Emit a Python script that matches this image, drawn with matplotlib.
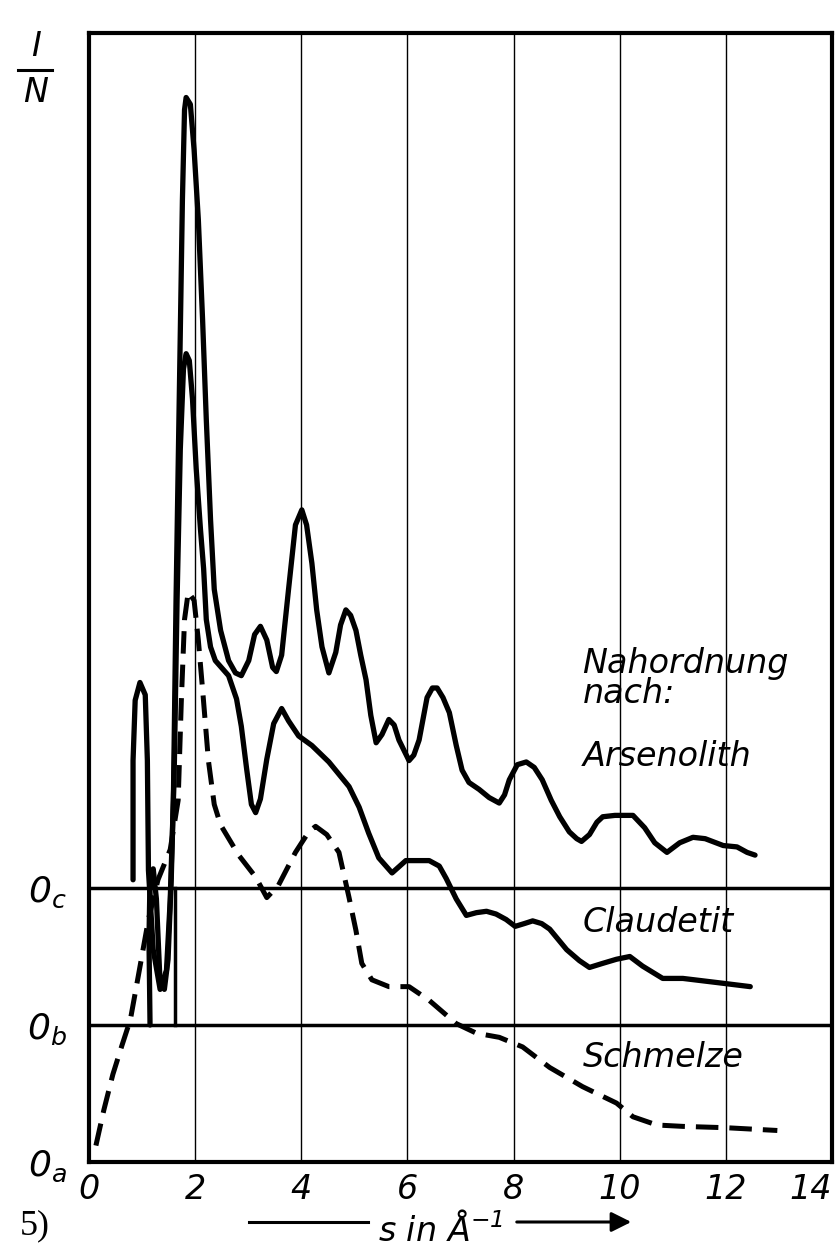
import numpy as np
import matplotlib.pyplot as plt
from matplotlib.lines import Line2D

plt.rcParams['mathtext.fontset'] = 'custom'
plt.rcParams['mathtext.it'] = 'DejaVu Sans:italic'
plt.rcParams['mathtext.rm'] = 'DejaVu Sans:italic'
plt.rcParams['mathtext.default'] = 'it'

# s in 1/Angstrom, I/N relative to each curve's own zero line
arsenolith_s = [0.83, 0.83, 0.87, 0.96, 1.06, 1.10, 1.12, 1.21, 1.34, 1.46, 1.53, 1.59, 1.64, 1.70,
                1.76, 1.80, 1.83, 1.91, 1.98, 2.06, 2.14, 2.21, 2.29, 2.36, 2.48, 2.63, 2.76, 2.87,
                3.01, 3.12, 3.23, 3.35, 3.46, 3.53, 3.63, 3.76, 3.89, 4.01, 4.10, 4.20, 4.29, 4.39,
                4.52, 4.65, 4.74, 4.84, 4.93, 5.03, 5.12, 5.22, 5.31, 5.41, 5.52, 5.65, 5.75, 5.84,
                6.03, 6.12, 6.22, 6.37, 6.47, 6.56, 6.67, 6.79, 6.92, 7.03, 7.16, 7.35, 7.54, 7.73,
                7.83, 7.92, 8.07, 8.24, 8.39, 8.54, 8.71, 8.87, 9.05, 9.19, 9.28, 9.43, 9.57, 9.68,
                9.91, 10.25, 10.47, 10.66, 10.89, 11.13, 11.38, 11.61, 11.95, 12.21, 12.40, 12.55]
arsenolith_i = [0.06, 0.93, 1.37, 1.50, 1.41, 0.93, 0.13, -0.45, -0.74, -0.60, -0.09, 0.64, 2.10, 3.56,
                5.02, 5.68, 5.77, 5.72, 5.39, 4.88, 4.15, 3.42, 2.69, 2.18, 1.88, 1.66, 1.57, 1.55,
                1.66, 1.85, 1.91, 1.81, 1.61, 1.58, 1.70, 2.18, 2.65, 2.76, 2.65, 2.37, 2.03, 1.76,
                1.57, 1.72, 1.92, 2.03, 1.99, 1.88, 1.70, 1.52, 1.26, 1.06, 1.12, 1.23, 1.19, 1.08,
                0.93, 0.97, 1.08, 1.39, 1.46, 1.46, 1.39, 1.28, 1.04, 0.86, 0.77, 0.72, 0.66, 0.62,
                0.68, 0.79, 0.90, 0.92, 0.88, 0.79, 0.64, 0.52, 0.41, 0.36, 0.34, 0.39, 0.48, 0.52,
                0.53, 0.53, 0.44, 0.33, 0.26, 0.33, 0.37, 0.36, 0.31, 0.30, 0.26, 0.24]

claudetit_s = [1.15, 1.13, 1.15, 1.21, 1.27, 1.34, 1.42, 1.49, 1.55, 1.61, 1.66, 1.72, 1.78, 1.83,
               1.89, 1.95, 2.02, 2.10, 2.16, 2.21, 2.29, 2.38, 2.63, 2.78, 2.87, 2.97, 3.06, 3.14,
               3.23, 3.35, 3.48, 3.63, 3.76, 3.95, 4.20, 4.52, 4.90, 5.09, 5.27, 5.46, 5.71, 5.97,
               6.41, 6.60, 6.73, 6.92, 7.11, 7.30, 7.49, 7.67, 7.86, 8.03, 8.20, 8.36, 8.53, 8.68,
               9.00, 9.24, 9.43, 9.68, 9.94, 10.19, 10.43, 10.81, 11.19, 11.83, 12.46]
claudetit_i = [0.00, 0.63, 1.07, 1.14, 0.92, 0.30, 0.26, 0.48, 1.07, 1.94, 3.11, 4.20, 4.79, 4.90,
               4.85, 4.57, 4.06, 3.62, 3.33, 2.96, 2.76, 2.66, 2.55, 2.38, 2.18, 1.87, 1.61, 1.55,
               1.65, 1.94, 2.20, 2.31, 2.22, 2.11, 2.04, 1.92, 1.74, 1.59, 1.40, 1.22, 1.11, 1.20,
               1.20, 1.16, 1.07, 0.92, 0.80, 0.82, 0.83, 0.81, 0.77, 0.72, 0.74, 0.76, 0.74, 0.70,
               0.55, 0.47, 0.42, 0.45, 0.48, 0.50, 0.43, 0.34, 0.34, 0.31, 0.28]

# short stroke at the foot of the Claudetit main peak
claudetit_foot_s = [1.62, 1.62]
claudetit_foot_i = [0.00, 1.00]

schmelze_s = [0.13, 0.28, 0.45, 0.62, 0.78, 0.93, 1.12, 1.30, 1.53, 1.68, 1.74, 1.80, 1.87, 1.98,
              2.06, 2.14, 2.25, 2.36, 2.48, 2.82, 3.14, 3.35, 3.57, 3.89, 4.14, 4.27, 4.48, 4.71,
              4.90, 5.03, 5.14, 5.33, 5.65, 6.03, 6.41, 6.92, 7.30, 7.73, 8.17, 8.68, 9.30, 9.94,
              10.25, 10.70, 11.19, 12.02, 12.97]
schmelze_i = [0.12, 0.38, 0.64, 0.85, 1.04, 1.36, 1.77, 2.06, 2.28, 2.64, 3.37, 3.96, 4.16, 4.10,
              3.81, 3.45, 2.93, 2.61, 2.46, 2.24, 2.08, 1.93, 2.02, 2.26, 2.41, 2.45, 2.39, 2.26,
              1.93, 1.69, 1.45, 1.33, 1.28, 1.28, 1.18, 1.01, 0.94, 0.91, 0.84, 0.69, 0.55, 0.43,
              0.33, 0.27, 0.26, 0.25, 0.23]

# zero lines 0a, 0b, 0c
zero_a = 0.0
zero_b = 1.0
zero_c = 2.0

xticks = [0, 2, 4, 6, 8, 10, 12, 14]
zero_labels = [r'$\mathit{0}_{a}$', r'$\mathit{0}_{b}$', r'$\mathit{0}_{c}$']
W, H = 839, 1253

fig = plt.figure(figsize=(W / 100, H / 100), dpi=100)
ax = fig.add_axes([89 / W, 1 - 1162 / H, (832 - 89) / W, (1162 - 33) / H])
ax.set_xlim(0, 14)
ax.set_ylim(0, 1129 / 137)

for sp in ax.spines.values():
    sp.set_linewidth(3)

for x in xticks[1:-1]:
    ax.axvline(x, color='black', lw=1.0, zorder=1)
ax.axhline(zero_b, color='black', lw=2.5, zorder=1)
ax.axhline(zero_c, color='black', lw=2.5, zorder=1)

kw = dict(color='black', lw=3.8, solid_capstyle='round', solid_joinstyle='round', zorder=3)
ax.plot(arsenolith_s, np.array(arsenolith_i) + zero_c, **kw)
ax.plot(claudetit_s, np.array(claudetit_i) + zero_b, **kw)
ax.plot(claudetit_foot_s, np.array(claudetit_foot_i) + zero_b, color='black', lw=2.5, zorder=3)
ax.plot(schmelze_s, np.array(schmelze_i) + zero_a, color='black', lw=3.6,
        dashes=(4.5, 2.2), dash_capstyle='butt', zorder=3)

fnt = dict(fontsize=24, fontstyle='italic', family='DejaVu Sans')
ax.set_xticks(xticks)
ax.set_xticklabels([str(t) for t in xticks], **fnt)
ax.get_xticklabels()[-1].set_horizontalalignment('right')
ax.set_yticks([zero_a, zero_b, zero_c])
ax.set_yticklabels(zero_labels, fontsize=26)
ax.tick_params(axis='both', length=0)
ax.tick_params(axis='x', pad=8)
ax.tick_params(axis='y', pad=16)

ax.text(9.3, 3.53, 'Nahordnung\nnach:', ha='left', va='center', linespacing=0.9, **fnt)
ax.text(9.3, 2.96, 'Arsenolith', ha='left', va='center', **fnt)
ax.text(9.3, 1.75, 'Claudetit', ha='left', va='center', **fnt)
ax.text(9.3, 0.76, 'Schmelze', ha='left', va='center', **fnt)

# I/N label
fig.text(36 / W, 1 - 46 / H, 'I', ha='center', va='center', **fnt)
fig.add_artist(Line2D([18 / W, 52 / W], [1 - 70 / H, 1 - 70 / H], color='black', lw=2.2))
fig.text(36 / W, 1 - 93 / H, 'N', ha='center', va='center', **fnt)

fig.text(20 / W, 1 - 1226 / H, '5)', ha='left', va='center', fontsize=26, family='Liberation Serif')

# axis title with arrow
fig.add_artist(Line2D([249 / W, 368 / W], [1 - 1222 / H, 1 - 1222 / H], color='black', lw=2.2))
fig.text(441 / W, 1 - 1230 / H, r's in Å$^{-1}$', ha='center', va='center', **fnt)
ax.annotate('', xy=(634 / W, 1 - 1222 / H), xytext=(514 / W, 1 - 1222 / H),
            xycoords='figure fraction', textcoords='figure fraction',
            arrowprops=dict(arrowstyle='-|>', color='black', lw=2.2, mutation_scale=30))

fig.savefig('out.png', dpi=100)
